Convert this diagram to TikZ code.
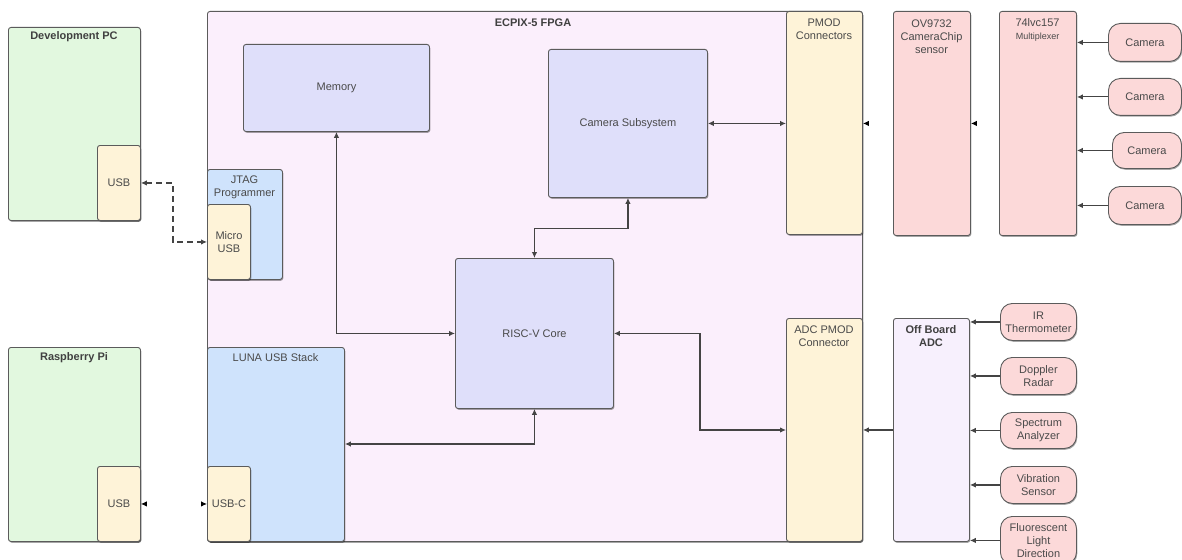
\documentclass[tikz,border=0pt]{standalone}
\usepackage{fontspec}
\setmainfont{Liberation Sans}
\usetikzlibrary{arrows.meta,shadows}
\definecolor{cgreen}{HTML}{E2F8DF}
\definecolor{cbeige}{HTML}{FEF3D8}
\definecolor{cfpga}{HTML}{FBEFFC}
\definecolor{clav}{HTML}{DFDFFA}
\definecolor{cblue}{HTML}{CFE3FC}
\definecolor{cpink}{HTML}{FCD9D9}
\definecolor{cadc}{HTML}{F7F0FD}
\definecolor{cbord}{HTML}{5B5B5B}
\definecolor{ctxt}{HTML}{4A4A4A}
\definecolor{cline}{HTML}{444444}
\tikzset{
  box/.style={draw=cbord, line width=0.9pt, rounded corners=2.5pt, anchor=north west,
    inner sep=0pt, align=center, text=ctxt, font=\fontsize{11}{13}\selectfont,
    drop shadow={shadow xshift=0.8pt, shadow yshift=-1.3pt, opacity=0.35, fill=black}},
  pill/.style={box, rounded corners=12pt},
  txt/.style={inner sep=0pt, align=center, text=ctxt, font=\fontsize{11}{13}\selectfont},
  ttl/.style={inner sep=0pt, align=center, text=black!75, font=\fontsize{11}{13}\selectfont\bfseries},
  tip/.style={-{Latex[length=6pt,width=5.5pt]}},
  bitip/.style={{Latex[length=6pt,width=5.5pt]}-{Latex[length=6pt,width=5.5pt]}},
  conn/.style={draw=cline, line width=1.1pt},
  ghost/.style={draw=white, line width=1pt, -{Latex[length=6pt,width=5.5pt,color=black]}},
  ghostbi/.style={draw=white, line width=1pt, {Latex[length=6pt,width=5.5pt,color=black]}-{Latex[length=6pt,width=5.5pt,color=black]}},
}
\begin{document}
\begin{tikzpicture}[x=1pt,y=-1pt]
\useasboundingbox (0,0) rectangle (1182,559);
% FPGA
\node[box, fill=cfpga, minimum width=655pt, minimum height=530pt] (fpga) at (207,11) {};
\node[ttl] (fpgal) at (533,23) {ECPIX-5 FPGA};
% Development PC
\node[box, fill=cgreen, minimum width=132pt, minimum height=193pt] (dev) at (8,27) {};
\node[ttl] (devl) at (74,37) {Development PC};
\node[box, fill=cbeige, minimum width=43pt, minimum height=75pt] (usb1) at (97,145) {USB};
% Raspberry Pi
\node[box, fill=cgreen, minimum width=132pt, minimum height=194pt] (rpi) at (8,347) {};
\node[ttl] (rpil) at (74,358) {Raspberry Pi};
\node[box, fill=cbeige, minimum width=43pt, minimum height=75pt] (usb2) at (97,466) {USB};
% Memory
\node[box, fill=clav, minimum width=186pt, minimum height=87pt] (mem) at (243,44) {Memory};
% JTAG
\node[box, fill=cblue, minimum width=75pt, minimum height=110pt] (jtag) at (207,169) {};
\node[txt] (jtagl) at (244.5,187.5) {JTAG\\Programmer};
\node[box, fill=cbeige, minimum width=43pt, minimum height=75pt] (musb) at (207,204) {Micro\\USB};
% LUNA
\node[box, fill=cblue, minimum width=137pt, minimum height=194pt] (luna) at (207,347) {};
\node[txt] (lunal) at (275.5,358) {LUNA USB Stack};
\node[box, fill=cbeige, minimum width=43pt, minimum height=75pt] (usbc) at (207,466) {USB-C};
% Camera subsystem
\node[box, fill=clav, minimum width=159pt, minimum height=148pt] (cam) at (548,49) {Camera Subsystem};
% RISC-V
\node[box, fill=clav, minimum width=158pt, minimum height=150pt] (risc) at (455,258) {RISC-V Core};
% PMOD
\node[box, fill=cbeige, minimum width=76pt, minimum height=223pt] (pmod) at (786,11) {};
\node[txt] (pmodl) at (824,29.5) {PMOD\\Connectors};
\node[box, fill=cbeige, minimum width=76pt, minimum height=223pt] (adcp) at (786,318) {};
\node[txt] (adcpl) at (824,336) {ADC PMOD\\Connector};
% OV9732
\node[box, fill=cpink, minimum width=77pt, minimum height=224pt] (ov) at (893,11) {};
\node[txt] (ovl) at (931.5,36.5) {OV9732\\CameraChip\\sensor};
% Mux
\node[box, fill=cpink, minimum width=77pt, minimum height=224pt] (mux) at (999,11) {};
\node[txt] (muxl) at (1037.5,29.5) {74lvc157\\{\fontsize{9}{11}\selectfont Multiplexer}};
% Off board ADC
\node[box, fill=cadc, minimum width=76pt, minimum height=223pt] (adc) at (893,318) {};
\node[ttl] (adcl) at (931,336.5) {Off Board\\ADC};
% Cameras
\node[pill, fill=cpink, minimum width=73pt, minimum height=38pt] (c1) at (1108,23) {Camera};
\node[pill, fill=cpink, minimum width=73pt, minimum height=37pt] (c2) at (1108,78) {Camera};
\node[pill, fill=cpink, minimum width=69pt, minimum height=36pt] (c3) at (1112,132) {Camera};
\node[pill, fill=cpink, minimum width=73pt, minimum height=38pt] (c4) at (1108,186) {Camera};
% Sensors
\node[pill, fill=cpink, minimum width=76pt, minimum height=37pt] (s1) at (1000,303) {IR\\Thermometer};
\node[pill, fill=cpink, minimum width=76pt, minimum height=37pt] (s2) at (1000,357) {Doppler\\Radar};
\node[pill, fill=cpink, minimum width=76pt, minimum height=36pt] (s3) at (1000,412) {Spectrum\\Analyzer};
\node[pill, fill=cpink, minimum width=76pt, minimum height=37pt] (s4) at (1000,466) {Vibration\\Sensor};
\node[pill, fill=cpink, minimum width=76pt, minimum height=48pt] (s5) at (1000,516) {Fluorescent\\Light\\Direction};
% coordinates
\coordinate (dj) at (173,0);
\coordinate (rj) at (700,430);
\coordinate (lj) at (0,444);
% connectors
\draw[conn, bitip, dash pattern=on 6pt off 4pt] (usb1.east) -- (usb1.east -| dj) |- (musb.west);
\draw[ghostbi] (usb2.east) -- (usbc.west);
\draw[conn, bitip] (mem.south) |- (risc.west);
\draw[conn, bitip] (cam.south) -- ++(0,31) -| (risc.north);
\draw[conn, bitip] (risc.east) -| (rj) -- (rj -| adcp.west);
\draw[conn, bitip] (risc.south) |- (lj -| luna.east);
\draw[conn, bitip] (cam.east) -- (cam.east -| pmod.west);
\draw[ghost] (ov.west) -- (ov.west -| pmod.east);
\draw[ghost] (mux.west) -- (mux.west -| ov.east);
\foreach \c in {c1,c2,c3,c4}{\draw[conn, tip] (\c.west) -- (\c.west -| mux.east);}
\draw[conn, tip] (adc.west) -- (adc.west -| adcp.east);
\foreach \s in {s1,s2,s3,s4,s5}{\draw[conn, tip] (\s.west) -- (\s.west -| adc.east);}
\end{tikzpicture}
\end{document}
